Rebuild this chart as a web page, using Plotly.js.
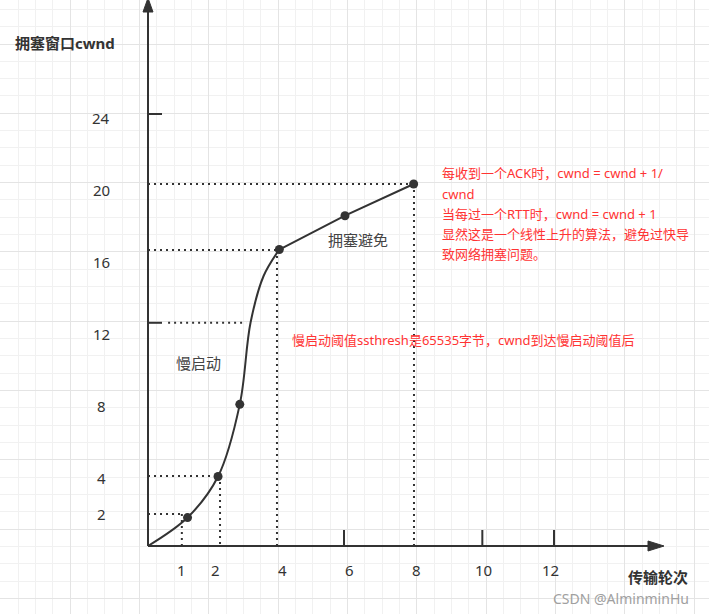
<!DOCTYPE html>
<html><head><meta charset="utf-8">
<script src="https://cdn.plot.ly/plotly-3.0.1.min.js"></script>
<style>html,body{margin:0;padding:0;background:#fff;}#chart{width:709px;height:614px;}</style>
</head><body><div id="chart"></div>
<script>
// ---- data (x = 传输轮次, y = 拥塞窗口cwnd) ----
const roundTicks = [1, 2, 4, 6, 8, 10, 12];
const cwndTicks = [2, 4, 8, 12, 16, 20, 24];
// slow-start curve
const slowStartX = [0, 1.18, 2.09, 2.74, 3.06, 3.45, 3.92];
const slowStartY = [0, 1.58, 3.86, 7.87, 12.4, 15.0, 16.47];
// congestion-avoidance line
const avoidX = [3.92, 5.88, 7.93];
const avoidY = [16.47, 18.35, 20.11];
// marked points
const dotX = [1.18, 2.09, 2.74, 3.92, 5.88, 7.93];
const dotY = [1.58, 3.86, 7.87, 16.47, 18.35, 20.11];
// dotted guide corners (x, y)
const guideX = [1.01, 2.15, 3.85, 7.94];
const guideY = [1.78, 3.89, 16.44, 20.11];
// ssthresh guide level and its extent
const ssthreshLevel = 12.4;
const ssthreshEnd = 2.93;
// drawn tick marks
const yTickMarks = [24, 12.4];
const xTickMarks = [5.85, 9.98, 12.12];
// text
const redLines = ['每收到一个ACK时，cwnd = cwnd + 1/', 'cwnd', '当每过一个RTT时，cwnd = cwnd + 1', '显然这是一个线性上升的算法，避免过快导', '致网络拥塞问题。'];
const redNote = '慢启动阈值ssthresh是65535字节，cwnd到达慢启动阈值后';

// ---- geometry of the page in data units ----
const PX_X = 33.5, PX_Y = 18;          // pixels per unit
const X0 = 148, Y0 = 546;              // pixel position of the origin
const W = 709, H = 614;
const xr = [-X0 / PX_X, (W - X0) / PX_X];
const yr = [(Y0 - H) / PX_Y, Y0 / PX_Y];
const px2x = p => (p - X0) / PX_X;
const py2y = p => (Y0 - p) / PX_Y;

const FONT = 'Noto Sans, Noto Sans CJK SC, sans-serif';
const INK = '#333333';
const RED = '#ff3333';
const dotted = {color: INK, width: 2, dash: '2px,4px'};

// dotted guides
const gx = [], gy = [];
guideX.forEach((cx, i) => {
  const cy = guideY[i];
  gx.push(0, cx, null, cx, cx, null);
  gy.push(cy, cy, null, cy, 0, null);
});
gx.push(0.6, ssthreshEnd, null);
gy.push(ssthreshLevel, ssthreshLevel, null);

// solid tick marks
const tx = [], ty = [];
yTickMarks.forEach(v => { tx.push(0, 14 / PX_X, null); ty.push(v, v, null); });
xTickMarks.forEach(v => { tx.push(v, v, null); ty.push(0, 16 / PX_Y, null); });

const xEnd = px2x(664), yEnd = yr[1];
const headL = 16, headW = 5;
const traces = [
  {x: gx, y: gy, mode: 'lines', line: dotted, hoverinfo: 'skip'},
  {x: tx, y: ty, mode: 'lines', line: {color: INK, width: 2}, hoverinfo: 'skip'},
  // axes
  {x: [0, xEnd - 8 / PX_X], y: [0, 0], mode: 'lines', line: {color: INK, width: 2}, hoverinfo: 'skip'},
  {x: [0, 0], y: [0, yEnd - 8 / PX_Y], mode: 'lines', line: {color: INK, width: 2}, hoverinfo: 'skip'},
  {x: [xEnd, xEnd - headL / PX_X, xEnd - headL / PX_X, xEnd], y: [0, headW / PX_Y, -headW / PX_Y, 0],
   mode: 'lines', fill: 'toself', fillcolor: INK, line: {color: INK, width: 1}, hoverinfo: 'skip'},
  {x: [0, headW / PX_X, -headW / PX_X, 0], y: [yEnd + 2 / PX_Y, yEnd - 12 / PX_Y, yEnd - 12 / PX_Y, yEnd + 2 / PX_Y],
   mode: 'lines', fill: 'toself', fillcolor: INK, line: {color: INK, width: 1}, hoverinfo: 'skip'},
  // curves
  {x: slowStartX, y: slowStartY, mode: 'lines', line: {color: INK, width: 2, shape: 'spline', smoothing: 1}, hoverinfo: 'skip'},
  {x: avoidX, y: avoidY, mode: 'lines', line: {color: INK, width: 2}, hoverinfo: 'skip'},
  {x: dotX, y: dotY, mode: 'markers', marker: {color: INK, size: 9}, cliponaxis: false, hoverinfo: 'skip'}
];

const ann = [];
const txt = (x, y, text, size, color, extra) => Object.assign({x, y, xref: 'x', yref: 'y', text, showarrow: false,
  font: {family: FONT, size, color}}, extra || {});
cwndTicks.forEach(v => ann.push(txt(px2x(101), v, String(v), 15, INK, {yshift: -4})));
roundTicks.forEach(v => ann.push(txt(v, py2y(570), String(v), 15, INK)));
ann.push(txt(px2x(65), py2y(43), '<b>拥塞窗口cwnd</b>', 15, INK));
ann.push(txt(px2x(658), py2y(577), '<b>传输轮次</b>', 15, INK));
ann.push(txt(px2x(198), py2y(363), '慢启动', 15, '#444444'));
ann.push(txt(px2x(358), py2y(240), '拥塞避免', 15, '#444444'));
const redTop = 173.3, redStep = 20.2;
redLines.forEach((s, i) => ann.push(txt(px2x(440), py2y(redTop + i * redStep), s, 13, RED, {xanchor: 'left'})));
ann.push(txt(px2x(290), py2y(340), redNote, 13, RED, {xanchor: 'left'}));
ann.push(txt(px2x(621), py2y(598), 'CSDN @AlminminHu', 14, '#a0a0a0'));

const layout = {
  width: W, height: H, margin: {l: 0, r: 0, t: 0, b: 0},
  paper_bgcolor: '#ffffff', plot_bgcolor: '#ffffff', showlegend: false,
  xaxis: {range: xr, showticklabels: false, zeroline: false, ticks: '', showline: false,
    tickmode: 'linear', tick0: px2x(1), dtick: 4 * 17.33 / PX_X, showgrid: true, gridcolor: '#e4e4e4', gridwidth: 1,
    minor: {tick0: px2x(1), dtick: 17.33 / PX_X, showgrid: true, gridcolor: '#f1f1f1', gridwidth: 1}},
  yaxis: {range: yr, showticklabels: false, zeroline: false, ticks: '', showline: false,
    tickmode: 'linear', tick0: py2y(44), dtick: 4 * 17.33 / PX_Y, showgrid: true, gridcolor: '#e4e4e4', gridwidth: 1,
    minor: {tick0: py2y(44), dtick: 17.33 / PX_Y, showgrid: true, gridcolor: '#f1f1f1', gridwidth: 1}},
  annotations: ann
};
Plotly.newPlot('chart', traces, layout, {displayModeBar: false, staticPlot: true});
</script></body></html>
